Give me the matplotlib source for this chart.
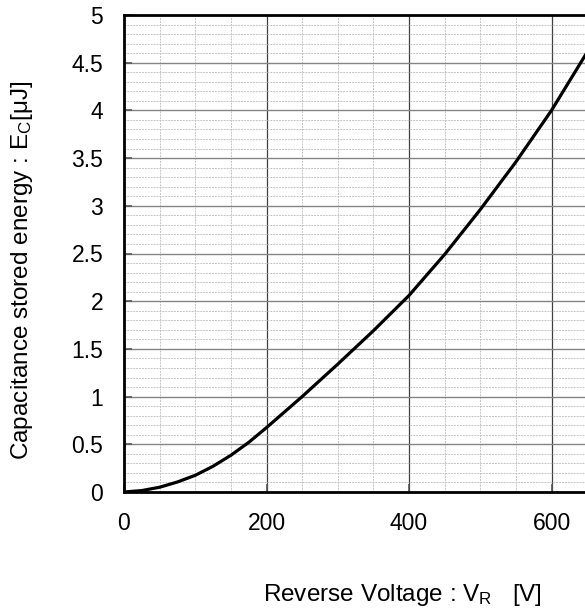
#!/usr/bin/env python3
import matplotlib
matplotlib.use("Agg")
import matplotlib.pyplot as plt
from matplotlib.ticker import MultipleLocator, FormatStrFormatter

# values
voltage = [0, 25, 50, 75, 100, 125, 150, 175, 200, 250, 300, 350,
           400, 450, 500, 550, 600, 650]
energy = [0, 0.015, 0.05, 0.105, 0.175, 0.27, 0.385, 0.52, 0.675, 1.0,
          1.34, 1.69, 2.06, 2.49, 2.96, 3.46, 4.00, 4.61]

x_ticks = [0, 200, 400, 600]
y_ticks = [0, 0.5, 1, 1.5, 2, 2.5, 3, 3.5, 4, 4.5, 5]

plt.rcParams['font.family'] = ['Liberation Sans', 'DejaVu Sans']
plt.rcParams['mathtext.default'] = 'regular'
plt.rcParams['mathtext.fontset'] = 'custom'
plt.rcParams['mathtext.rm'] = 'Liberation Sans'

fig = plt.figure(figsize=(5.85, 6.16), dpi=100)
# axes runs past the right edge of the picture, like the cropped original
ax = fig.add_axes([124 / 585, 124 / 616, 498.75 / 585, 477 / 616])

ax.set_xlim(0, 700)
ax.set_ylim(0, 5)
ax.set_xticks(x_ticks)
ax.set_yticks(y_ticks)
ax.xaxis.set_minor_locator(MultipleLocator(50))
ax.yaxis.set_minor_locator(MultipleLocator(0.1))
ax.yaxis.set_major_formatter(FormatStrFormatter('%g'))

ax.grid(which='minor', color='#c4c4c4', linestyle=(0, (2, 1)), linewidth=0.7)
ax.grid(which='major', axis='y', color='#858585', linestyle='-', linewidth=1.0)
ax.grid(which='major', axis='x', color='#404040', linestyle='-', linewidth=0.9)

ax.tick_params(which='major', direction='in', length=6, width=1.2,
               color='#555555', labelsize=16.5, pad=14.5)
ax.tick_params(which='minor', length=0)
ax.tick_params(axis='y', pad=15)

for s in ax.spines.values():
    s.set_linewidth(2.0)
    s.set_color('black')

ax.plot(voltage, energy, color='black', linewidth=2.3, zorder=5,
        solid_joinstyle='round', clip_on=True)

fig.text(22 / 585, 1 - 270 / 616,
         r'Capacitance stored energy : E$_C$[μJ]',
         rotation=90, ha='center', va='center', fontsize=17.5)
fig.text(402 / 585, 1 - 595 / 616,
         r'Reverse Voltage : V$_R$   [V]',
         ha='center', va='center', fontsize=17.5)

fig.savefig('out.png', dpi=100)
